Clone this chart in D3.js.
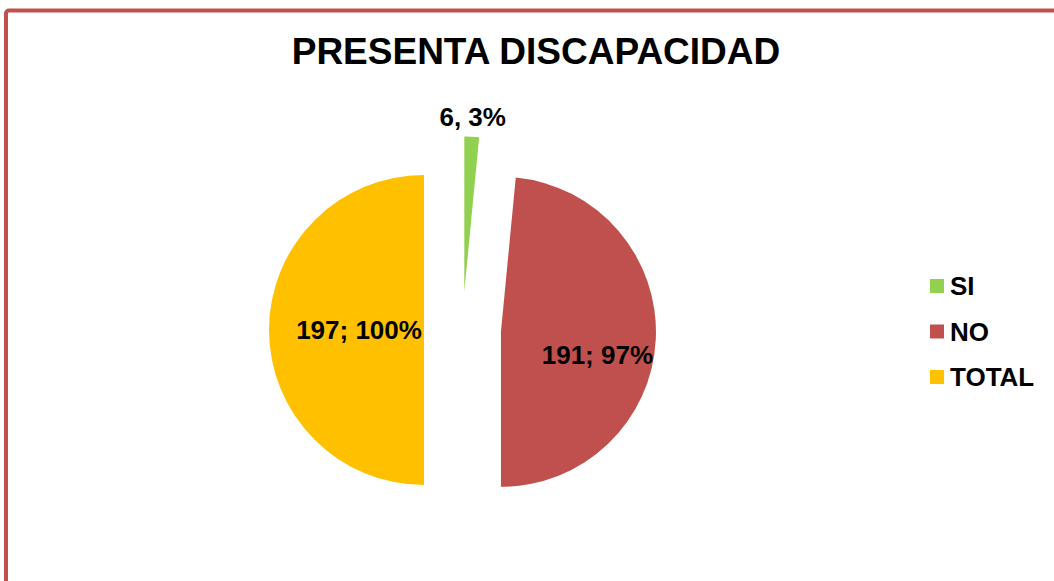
<!DOCTYPE html>
<html>
<head>
<meta charset="utf-8">
<script src="https://cdn.jsdelivr.net/npm/d3@7"></script>
<style>
  html, body { margin: 0; padding: 0; background: #fff; }
  svg { display: block; font-family: "Liberation Sans", Arial, sans-serif; }
</style>
</head>
<body>
<div id="chart"></div>
<script>
// data
const categories = [ 'SI', 'NO', 'TOTAL' ];
const values = [ 6, 191, 197 ];
const percentLabels = [ '3%', '97%', '100%' ];
const separators = [ ', ', '; ', '; ' ];
const colors = [ '#92D050', '#C0504D', '#FFC000' ];

const width = 1054, height = 581;
const cx = 462.5, cy = 330, radius = 155, explode = 38.5;

const svg = d3.select( '#chart' )
  .append( 'svg' )
  .attr( 'width', width )
  .attr( 'height', height );

// chart area border (right and bottom run off the picture)
svg.append( 'rect' )
  .attr( 'x', 6 )
  .attr( 'y', 10.5 )
  .attr( 'width', width + 20 )
  .attr( 'height', height + 20 )
  .attr( 'rx', 3 )
  .attr( 'fill', 'none' )
  .attr( 'stroke', '#C0504D' )
  .attr( 'stroke-width', 4 );

svg.append( 'text' )
  .attr( 'x', 536 )
  .attr( 'y', 64 )
  .attr( 'text-anchor', 'middle' )
  .attr( 'font-size', 37 )
  .attr( 'font-weight', 'bold' )
  .attr( 'fill', '#000' )
  .text( 'PRESENTA DISCAPACIDAD' );

const pie = d3.pie().sort( null ).value( d => d );
const arcs = pie( values );
const arc = d3.arc().innerRadius( 0 ).outerRadius( radius );

const mid = d => ( d.startAngle + d.endAngle ) / 2;

const g = svg.append( 'g' )
  .attr( 'transform', `translate(${cx},${cy})` );

const slice = g.selectAll( 'g.slice' )
  .data( arcs )
  .enter()
  .append( 'g' )
  .attr( 'class', 'slice' )
  .attr( 'transform', d => `translate(${Math.sin( mid( d ) ) * explode},${-Math.cos( mid( d ) ) * explode})` );

slice.append( 'path' )
  .attr( 'd', arc )
  .attr( 'fill', ( d, i ) => colors[ i ] );

// label placement per slice: distance from slice apex, small angle nudge
const labelDist = [ 175, 99, 65 ];
const labelNudge = [ 0, 0.18, 0 ];

slice.append( 'text' )
  .attr( 'x', ( d, i ) => Math.sin( mid( d ) + labelNudge[ i ] ) * labelDist[ i ] )
  .attr( 'y', ( d, i ) => -Math.cos( mid( d ) + labelNudge[ i ] ) * labelDist[ i ] )
  .attr( 'dy', '0.36em' )
  .attr( 'text-anchor', 'middle' )
  .attr( 'font-size', 26 )
  .attr( 'font-weight', 'bold' )
  .attr( 'fill', '#000' )
  .text( ( d, i ) => values[ i ] + separators[ i ] + percentLabels[ i ] );

// legend
const legend = svg.append( 'g' )
  .attr( 'transform', 'translate(930,286)' );

const item = legend.selectAll( 'g' )
  .data( categories )
  .enter()
  .append( 'g' )
  .attr( 'transform', ( d, i ) => `translate(0,${i * 45.5})` );

item.append( 'rect' )
  .attr( 'x', 0 )
  .attr( 'y', -7 )
  .attr( 'width', 14 )
  .attr( 'height', 14 )
  .attr( 'fill', ( d, i ) => colors[ i ] );

item.append( 'text' )
  .attr( 'x', 20 )
  .attr( 'dy', '0.36em' )
  .attr( 'font-size', 26 )
  .attr( 'font-weight', 'bold' )
  .attr( 'fill', '#000' )
  .text( d => d );
</script>
</body>
</html>
